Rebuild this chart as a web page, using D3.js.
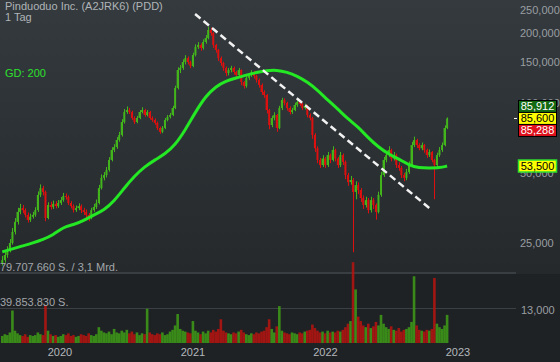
<!DOCTYPE html>
<html><head><meta charset="utf-8">
<script src="https://cdn.jsdelivr.net/npm/d3@7"></script>
<style>html,body{margin:0;padding:0;background:#1f2225;}svg{display:block;}</style>
</head><body>
<svg id="c" width="560" height="362"></svg>
<script>
// ---- data (weekly candles, EUR) ----
const title = "Pinduoduo Inc. (A2JRK6) (PDD)";
const period = "1 Tag";
const maLabel = "GD: 200";
const firstWeek = "2019-07-26";
const firstOpen = 20.5;
const closes = [21.1,22.2,23.3,25.0,27.9,30.8,34.0,35.3,34.6,33.0,
31.4,32.4,33.0,34.6,40.2,43.0,41.4,32.0,36.4,35.7,
36.8,36.0,37.1,38.2,39.8,39.4,37.1,36.0,34.6,35.3,
36.0,34.6,34.0,33.0,32.0,34.6,35.7,37.1,43.0,47.6,
48.9,51.4,56.8,62.7,64.5,69.2,72.7,82.6,91.2,93.0,
91.2,86.0,82.6,86.0,91.2,93.0,88.6,91.2,86.0,84.3,
81.9,77.9,75.0,77.9,84.3,86.9,88.6,94.9,115.7,138.2,
141.0,149.5,155.5,149.5,143.8,160.3,173.5,176.9,171.8,182.3,
189.6,205.2,199.1,176.9,168.4,155.5,148.1,141.0,134.1,138.2,
141.0,135.4,131.5,138.2,122.7,118.0,127.7,131.5,135.4,130.2,
125.2,119.2,111.2,107.9,93.0,80.2,86.0,88.6,77.9,94.9,
102.7,99.8,94.9,91.2,93.0,97.8,100.7,98.8,94.9,96.9,
88.6,86.0,72.7,63.8,56.8,54.0,57.6,54.0,59.6,56.8,
62.7,57.6,54.0,59.6,55.7,48.9,45.6,46.6,41.4,44.3,
42.2,39.0,36.4,38.2,34.6,38.2,36.4,34.0,40.2,48.9,
56.8,59.6,62.7,57.6,59.6,54.0,52.5,48.9,47.6,50.4,
54.0,65.8,69.2,65.8,63.8,65.8,62.7,59.6,61.4,56.8,
54.0,59.6,62.7,65.8,77.9,85.6];
const highs = [22.0,23.0,24.2,26.0,29.0,32.0,35.4,36.8,36.4,35.2,
33.8,33.4,34.0,35.6,41.6,44.6,44.0,42.0,37.4,37.6,
38.0,37.8,38.2,39.4,41.0,40.8,40.0,37.8,36.6,36.2,
37.0,36.6,35.4,34.8,33.6,35.4,36.8,38.4,44.4,49.2,
50.4,53.0,58.4,64.4,66.4,71.2,75.0,85.0,94.0,96.4,
95.0,92.4,87.4,87.8,93.0,95.6,94.2,93.0,92.2,87.4,
85.6,83.0,79.0,79.4,86.0,88.6,90.4,97.0,118.4,142.0,
145.0,153.6,160.0,158.0,151.4,164.0,178.0,182.0,180.0,187.0,
195.0,212.0,210.0,201.0,179.0,170.0,158.0,150.0,143.0,141.0,
144.0,143.0,137.0,141.0,139.0,124.0,130.0,134.0,138.0,137.0,
132.0,127.0,121.0,113.0,109.0,94.0,88.0,91.0,89.5,97.0,
105.0,104.5,101.0,96.5,95.0,100.0,103.0,102.5,100.0,99.0,
98.0,90.0,87.0,74.0,65.0,58.0,59.5,58.5,61.5,60.5,
65.0,63.5,58.5,61.5,60.5,56.5,50.0,48.5,47.5,46.0,
45.5,43.0,40.0,39.5,39.0,39.5,39.0,37.0,41.5,50.5,
58.5,62.0,65.0,63.5,61.5,60.5,55.5,53.5,50.0,52.0,
56.0,68.0,71.5,70.0,67.0,67.5,66.5,63.5,63.0,62.0,
57.5,61.0,64.5,67.5,80.0,86.5];
const lows = [20.0,20.6,21.6,22.8,24.6,27.2,30.0,33.2,33.6,32.2,
30.6,30.8,31.8,32.4,34.0,39.4,40.0,31.0,31.6,34.8,
35.0,35.2,35.4,36.4,37.6,38.4,36.4,35.2,33.8,34.0,
34.6,33.6,33.0,32.0,31.0,31.6,34.0,35.0,36.6,42.4,
46.4,47.8,50.6,56.0,61.4,63.4,68.0,71.6,81.4,89.6,
89.4,84.4,81.0,81.6,85.0,90.0,87.0,87.4,84.6,82.8,
80.4,76.4,73.6,74.0,77.0,83.2,85.6,87.6,93.8,114.0,
134.0,138.4,146.0,146.0,140.6,142.0,158.0,170.0,167.0,169.0,
179.0,187.0,194.0,172.0,164.0,151.0,144.0,137.0,130.0,131.0,
135.0,132.0,128.0,129.0,119.0,115.0,116.0,125.0,129.0,127.0,
122.0,116.0,108.0,105.0,90.0,77.0,78.5,84.0,75.0,77.0,
93.0,97.5,92.5,89.0,89.5,92.0,96.0,97.0,93.0,93.5,
86.5,84.0,70.0,61.5,55.0,52.5,53.0,52.5,53.0,55.0,
56.0,56.0,52.5,53.0,54.0,47.0,44.0,44.5,22.8,38.5,
40.5,37.5,35.0,35.5,33.5,33.8,35.0,31.5,33.5,39.5,
48.0,55.5,58.5,56.0,56.5,52.5,51.0,47.5,46.0,46.5,
49.5,53.5,64.5,64.0,62.5,62.5,61.0,58.0,58.5,55.5,
38.5,53.0,58.5,61.5,65.0,77.0];
// volume in millions of shares per bar
const volumes = [8,10,9,12,37,14,11,9,8,10,
7,9,8,9,12,10,9,43,14,10,
8,9,7,8,10,9,11,8,9,7,
8,10,9,8,11,9,8,10,18,14,
12,11,13,10,16,12,11,14,12,15,
11,13,10,12,9,11,10,39,12,10,
9,11,10,12,9,10,13,15,20,33,
16,14,13,12,11,25,14,12,10,13,
11,14,12,15,13,16,27,14,12,11,
10,12,11,13,15,12,10,9,11,10,
12,11,13,14,18,27,16,12,19,42,
14,12,11,10,12,11,10,12,11,13,
14,15,21,17,14,12,13,11,14,12,
13,12,14,13,15,18,22,25,92,61,
30,25,20,18,22,17,19,24,20,32,
22,18,16,19,15,14,17,13,15,16,
18,24,76,20,15,14,13,15,14,16,
74,22,18,16,20,32];
// 200-day moving average, sampled at week indices
const maWeeks = [0,4,8,12,16,20,24,28,32,36,40,44,48,52,56,60,64,68,72,76,80,84,88,92,96,100,104,108,112,116,120,124,128,132,136,140,144,148,152,156,160,164,168,172,175];
const maValues = [22.9,23.6,24.3,25.0,25.9,27.0,29.3,29.9,31.2,33.0,34.6,37.8,43.0,48.4,53.1,56.8,60.2,65.8,76.4,91.2,106.6,117.4,124.0,127.7,131.5,134.8,137.5,138.2,135.4,130.2,122.7,113.4,102.7,94.0,85.0,78.8,70.6,64.5,60.2,57.4,54.0,52.5,52.5,52.5,53.5];
// downtrend line
const trendDates = ["2021-01-07","2022-10-21"];
const trendValues = [240.3,34.6];
// axis ticks
const priceTicks = [25,50,100,150,200,250];
const yearTicks = ["2020-01-01","2021-01-01","2022-01-01","2023-01-01"];
const lastAsk = 85.912, lastPrice = 85.6, lastBid = 85.288, lastMA = 53.5;
const volRef = 39853830, volMax = 79707660, volTurnover = "3,1 Mrd.";
const volAxisValue = 13;

// ---- drawing ----
const de = d3.formatLocale({decimal:",",thousands:".",grouping:[3],currency:["","€"]});
const fmtP = de.format(",.3f");
const fmtV = de.format(",d");
const parse = d3.utcParse("%Y-%m-%d");
const svg = d3.select("#c");
const W = 560, H = 362;
const defs = svg.append("defs");
const g1 = defs.append("linearGradient").attr("id","bg").attr("x1",0).attr("y1",0).attr("x2",0).attr("y2",1);
g1.append("stop").attr("offset","0%").attr("stop-color","#343a3e");
g1.append("stop").attr("offset","100%").attr("stop-color","#25292c");
svg.append("rect").attr("x",0).attr("y",0).attr("width",W).attr("height",274).attr("fill","url(#bg)");
svg.append("rect").attr("x",0).attr("y",274).attr("width",W).attr("height",H-274).attr("fill","#1f2225");

const x = d3.scaleUtc().domain([parse("2020-01-01"), parse("2023-01-01")]).range([60,458]);
const y = d3.scaleLog().domain([25,250]).range([243,10]);
const yv = d3.scaleLinear().domain([0,volRef]).range([343,308]);

const start = parse(firstWeek);
const data = closes.map((c,i)=>({
  date: d3.utcDay.offset(start, 7*i),
  open: i===0 ? firstOpen : closes[i-1],
  close: c, high: highs[i], low: lows[i], vol: volumes[i]*1e6
}));

// separators / grid
svg.append("line").attr("x1",0).attr("x2",516).attr("y1",yv(volMax)).attr("y2",yv(volMax))
  .attr("stroke","#393e42").attr("stroke-width",2);
svg.append("line").attr("x1",0).attr("x2",516).attr("y1",yv(volRef)+0.5).attr("y2",yv(volRef)+0.5)
  .attr("stroke","#3b4044").attr("stroke-width",1);

const up = "#43b51c", down = "#dd1010";
// volume bars
svg.append("g").selectAll("rect").data(data).join("rect")
  .attr("x",d=>x(d.date)-1.3).attr("width",2.6)
  .attr("y",d=>yv(d.vol)).attr("height",d=>yv(0)-yv(d.vol))
  .attr("fill",d=>d.close>=d.open?"#3e9c17":"#b8140f").attr("opacity",0.85);

// candles
const cg = svg.append("g");
cg.selectAll("line").data(data).join("line")
  .attr("x1",d=>Math.round(x(d.date))+0.5).attr("x2",d=>Math.round(x(d.date))+0.5)
  .attr("y1",d=>y(d.high)).attr("y2",d=>y(d.low))
  .attr("stroke",d=>d.close>=d.open?up:down).attr("stroke-width",1);
cg.selectAll("rect").data(data).join("rect")
  .attr("x",d=>x(d.date)-1).attr("width",2)
  .attr("y",d=>y(Math.max(d.open,d.close)))
  .attr("height",d=>Math.max(1,Math.abs(y(d.open)-y(d.close))))
  .attr("fill",d=>d.close>=d.open?up:down);

// moving average
const maData = maWeeks.map((w,i)=>({date:d3.utcDay.offset(start,7*w), v:maValues[i]}));
svg.append("path").datum(maData)
  .attr("d", d3.line().x(d=>x(d.date)).y(d=>y(d.v)).curve(d3.curveBasis))
  .attr("fill","none").attr("stroke","#25e825").attr("stroke-width",3);

// trend line
svg.append("line")
  .attr("x1",x(parse(trendDates[0]))).attr("y1",y(trendValues[0]))
  .attr("x2",x(parse(trendDates[1]))).attr("y2",y(trendValues[1]))
  .attr("stroke","#f2f2f2").attr("stroke-width",2.5).attr("stroke-dasharray","7,4");

const font = "'Liberation Sans', Arial, sans-serif";
// texts
svg.append("text").attr("x",5).attr("y",10).text(title)
  .attr("fill","#b0b4b7").attr("font-family",font).attr("font-size",11);
svg.append("text").attr("x",5).attr("y",21).text(period)
  .attr("fill","#b0b4b7").attr("font-family",font).attr("font-size",11);
svg.append("text").attr("x",5).attr("y",77).text(maLabel)
  .attr("fill","#2de02d").attr("font-family",font).attr("font-size",11);

// y axis labels
svg.append("g").selectAll("text").data(priceTicks).join("text")
  .attr("x",520).attr("y",d=>y(d)+4).text(d=>fmtP(d))
  .attr("fill","#9a9ea2").attr("font-family",font).attr("font-size",11);
// year labels
svg.append("g").selectAll("text").data(yearTicks).join("text")
  .attr("x",d=>x(parse(d))).attr("y",356).attr("text-anchor","middle").text(d=>d.slice(0,4))
  .attr("fill","#b4b8bc").attr("font-family",font).attr("font-size",11);
// volume labels
svg.append("text").attr("x",0).attr("y",yv(volMax)-2).text(fmtV(volMax)+" S. / "+volTurnover)
  .attr("fill","#a2a6aa").attr("font-family",font).attr("font-size",11);
svg.append("text").attr("x",0).attr("y",yv(volRef)-2).text(fmtV(volRef)+" S.")
  .attr("fill","#a2a6aa").attr("font-family",font).attr("font-size",11);
svg.append("text").attr("x",521).attr("y",yv(volRef)+6).text(fmtP(volAxisValue))
  .attr("fill","#9a9ea2").attr("font-family",font).attr("font-size",11);

// price marker tick
svg.append("line").attr("x1",514).attr("x2",517).attr("y1",y(lastPrice)).attr("y2",y(lastPrice))
  .attr("stroke","#ffffff").attr("stroke-width",1);

function box(v, cy, fill, stroke, color, sw){
  svg.append("rect").attr("x",518.5).attr("y",cy-6).attr("width",38).attr("height",12)
    .attr("fill",fill).attr("stroke",stroke).attr("stroke-width",sw);
  svg.append("text").attr("x",537.5).attr("y",cy+4).attr("text-anchor","middle").text(fmtP(v))
    .attr("fill",color).attr("font-family",font).attr("font-size",11);
}
const cy = y(lastPrice);
box(lastAsk, cy-12, "#136a13", "#000", "#ffffff", 1);
box(lastPrice, cy, "#ffff00", "#000", "#000000", 1);
box(lastBid, cy+12, "#e0101c", "#000", "#ffffff", 1);
box(lastMA, y(lastMA), "#ffff00", "#2de02d", "#000000", 1.5);
</script>
</body></html>
